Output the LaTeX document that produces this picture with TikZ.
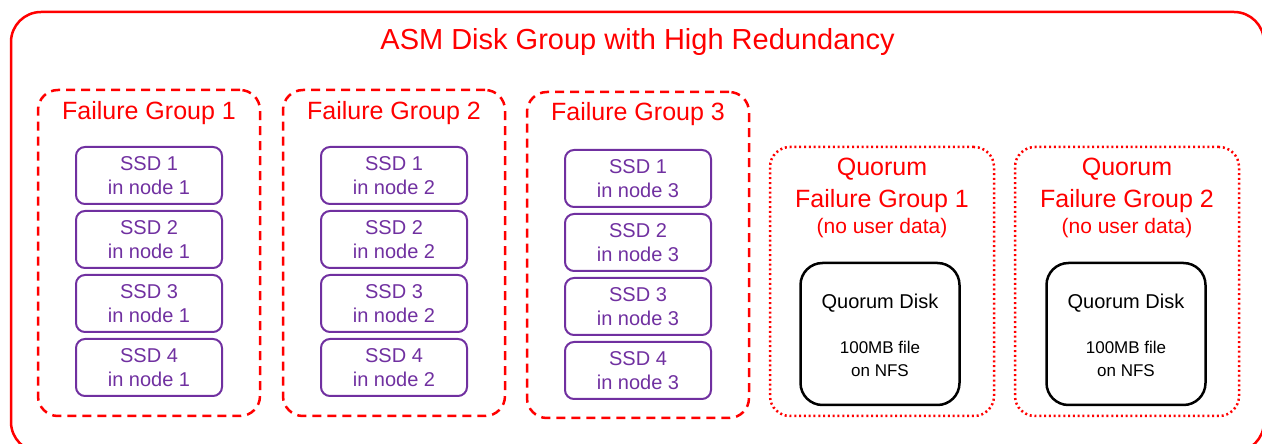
\documentclass[tikz,border=0pt]{standalone}
\usepackage{fontspec}
\setmainfont{Liberation Sans}
\usetikzlibrary{positioning}
\definecolor{asmred}{RGB}{255,0,0}
\definecolor{ssdpurple}{RGB}{112,48,160}
\tikzstyle{diskgroup} = [rectangle, draw=asmred, line width=2.5pt, rounded corners=30pt, minimum width=1253pt, minimum height=440pt]
\tikzstyle{fgroup} = [rectangle, draw=asmred, line width=2.5pt, dash pattern=on 9pt off 6pt, rounded corners=20pt, minimum width=222pt, minimum height=326pt]
\tikzstyle{qgroup} = [rectangle, draw=asmred, line width=2.5pt, dash pattern=on 2pt off 2.8pt, rounded corners=20pt, minimum width=224pt, minimum height=269pt]
\tikzstyle{ssd} = [rectangle, draw=ssdpurple, text=ssdpurple, line width=2pt, rounded corners=9pt, minimum width=146pt, minimum height=57pt, align=center, inner sep=0pt, font=\fontsize{20}{24}\selectfont]
\tikzstyle{qdisk} = [rectangle, draw=black, line width=2.5pt, rounded corners=22pt, minimum width=159pt, minimum height=142pt]
\tikzstyle{maintitle} = [text=asmred, inner sep=0pt, font=\fontsize{29}{35}\selectfont]
\tikzstyle{gtitle} = [text=asmred, inner sep=0pt, font=\fontsize{25}{31}\selectfont]
\tikzstyle{qnote} = [text=asmred, inner sep=0pt, font=\fontsize{21}{26}\selectfont]
\tikzstyle{qdtitle} = [inner sep=0pt, font=\fontsize{20}{24}\selectfont]
\tikzstyle{qdfile} = [inner sep=0pt, align=center, font=\fontsize{17}{23}\selectfont]

\begin{document}
\begin{tikzpicture}[x=1pt, y=1pt, node distance=20pt, every node/.style={outer sep=0pt}]
    \path[use as bounding box, clip] (0,0) rectangle (1262,444);

    % ASM disk group
    \node[diskgroup] (asm) at (637.5,212) {};
    \node[maintitle, below=38pt of asm.north, anchor=base] (asmtitle) {ASM Disk Group with High Redundancy};

    % failure groups
    \node[fgroup] (fg1) at (149,191) {};
    \node[fgroup, right=23pt of fg1] (fg2) {};
    \node[fgroup, right=22pt of fg2, yshift=-2pt] (fg3) {};
    \node[gtitle, below=30pt of fg1.north, anchor=base] (fgtitle1) {Failure Group 1};
    \node[gtitle, below=30pt of fg2.north, anchor=base] (fgtitle2) {Failure Group 2};
    \node[gtitle, below=29pt of fg3.north, anchor=base] (fgtitle3) {Failure Group 3};

    % SSDs in node 1
    \node[ssd, below=57pt of fg1.north] (ssd11) {SSD 1\\in node 1};
    \node[ssd, below=7pt of ssd11] (ssd12) {SSD 2\\in node 1};
    \node[ssd, below=7pt of ssd12] (ssd13) {SSD 3\\in node 1};
    \node[ssd, below=7pt of ssd13] (ssd14) {SSD 4\\in node 1};

    % SSDs in node 2
    \node[ssd, below=57pt of fg2.north] (ssd21) {SSD 1\\in node 2};
    \node[ssd, below=7pt of ssd21] (ssd22) {SSD 2\\in node 2};
    \node[ssd, below=7pt of ssd22] (ssd23) {SSD 3\\in node 2};
    \node[ssd, below=7pt of ssd23] (ssd24) {SSD 4\\in node 2};

    % SSDs in node 3
    \node[ssd, below=58pt of fg3.north] (ssd31) {SSD 1\\in node 3};
    \node[ssd, below=7pt of ssd31] (ssd32) {SSD 2\\in node 3};
    \node[ssd, below=7pt of ssd32] (ssd33) {SSD 3\\in node 3};
    \node[ssd, below=7pt of ssd33] (ssd34) {SSD 4\\in node 3};

    % quorum failure groups
    \node[qgroup, right=21pt of fg3.south east, anchor=south west, yshift=2pt] (qfg1) {};
    \node[qgroup, right=21pt of qfg1] (qfg2) {};
    \node[gtitle, below=29pt of qfg1.north, anchor=base] (qtitle1) {Quorum};
    \node[gtitle, below=32pt of qtitle1.base, anchor=base] (qname1) {Failure Group 1};
    \node[qnote, below=26pt of qname1.base, anchor=base] (qnote1) {(no user data)};
    \node[gtitle, below=29pt of qfg2.north, anchor=base] (qtitle2) {Quorum};
    \node[gtitle, below=32pt of qtitle2.base, anchor=base] (qname2) {Failure Group 2};
    \node[qnote, below=26pt of qname2.base, anchor=base] (qnote2) {(no user data)};

    % quorum disks
    \node[qdisk, above=11pt of qfg1.south, xshift=-2pt] (qdisk1) {};
    \node[qdtitle, below=46pt of qdisk1.north, anchor=base] (qdtitle1) {Quorum Disk};
    \node[qdfile, below=78pt of qdisk1.north] (qdfile1) {100MB file\\on NFS};
    \node[qdisk, above=11pt of qfg2.south, xshift=-1pt] (qdisk2) {};
    \node[qdtitle, below=46pt of qdisk2.north, anchor=base] (qdtitle2) {Quorum Disk};
    \node[qdfile, below=78pt of qdisk2.north] (qdfile2) {100MB file\\on NFS};
\end{tikzpicture}
\end{document}
